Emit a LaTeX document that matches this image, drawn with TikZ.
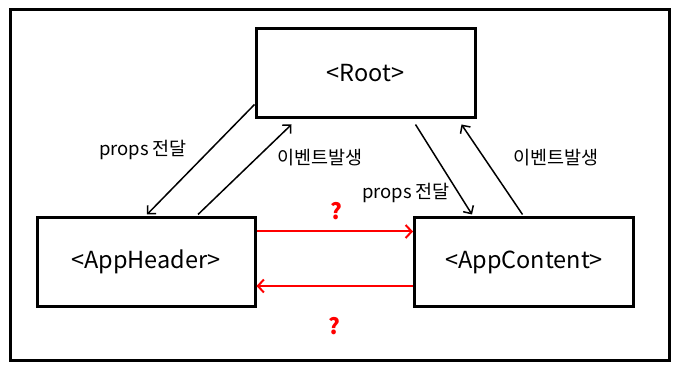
\documentclass[tikz,border=0pt]{standalone}
\usepackage{fontspec}
\setmainfont{Noto Sans CJK KR}
\usetikzlibrary{arrows.meta,calc}
\begin{document}
\begin{tikzpicture}[x=1pt,y=-1pt,
  compbox/.style={draw=black,line width=3pt,minimum width=#1,minimum height=89pt,inner sep=0pt,font=\fontsize{23.5}{26}\selectfont},
  compbox/.default=219pt,
  lbl/.style={font=\fontsize{18.5}{20}\selectfont,inner sep=0pt},
  qmark/.style={font=\fontsize{22}{24}\selectfont\bfseries,text=red,inner sep=0pt},
  blackarrow/.style={draw=black,line width=1.5pt,-{Straight Barb[length=6pt,width=12pt]}},
  redarrow/.style={draw=red,line width=2pt,-{Straight Barb[length=6pt,width=13pt]}}]
\useasboundingbox (0,0) rectangle (680,374);
\draw[line width=3pt] (10,10) rectangle (669,360);
\node[compbox] (root) at (365.5,73.5) {\raisebox{-1.5pt}{<Root>}};
\node[compbox=218pt] (hdr) at (146,262) {\raisebox{-2pt}{<AppHeader>}};
\node[compbox] (cnt) at (524,262) {\raisebox{-2pt}{<AppContent>}};
% black connectors
\draw[blackarrow] ([yshift=15pt]root.south west) -- ([xshift=1pt,yshift=1.5pt]hdr.north);
\draw[blackarrow] ([xshift=52pt,yshift=1.5pt]hdr.north) -- ([xshift=37pt,yshift=-5pt]root.south west);
\draw[blackarrow] ([xshift=-61pt,yshift=-5pt]root.south east) -- ([xshift=59pt,yshift=1.5pt]cnt.north west);
\draw[blackarrow] ([xshift=-1.5pt,yshift=1.5pt]cnt.north) -- ([xshift=-15pt,yshift=-5pt]root.south east);
% red connectors
\draw[redarrow] ([yshift=-15.5pt]hdr.north east) -- ([yshift=-15.5pt]cnt.north west);
\draw[redarrow] ([yshift=22pt]cnt.south west) -- ([yshift=22pt]hdr.south east);
% labels
\node[lbl] (l1) at (143,150) {props 전달};
\node[lbl] (l2) at (320,158) {이벤트발생};
\node[lbl] (l3) at (406,193) {props 전달};
\node[lbl] (l4) at (556,158) {이벤트발생};
\node[qmark] (q1) at (336,211) {?};
\node[qmark] (q2) at (334,326) {?};
\end{tikzpicture}
\end{document}
